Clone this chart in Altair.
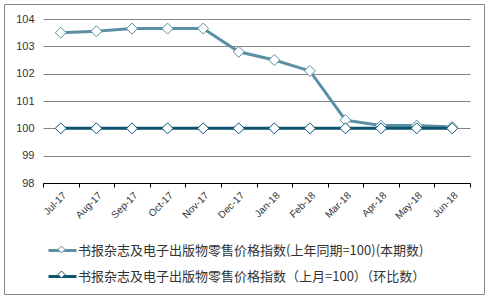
import altair as alt
import pandas as pd

months = ["Jul-17", "Aug-17", "Sep-17", "Oct-17", "Nov-17", "Dec-17",
          "Jan-18", "Feb-18", "Mar-18", "Apr-18", "May-18", "Jun-18"]
series_names = ["书报杂志及电子出版物零售价格指数(上年同期=100)(本期数)",
                "书报杂志及电子出版物零售价格指数（上月=100）（环比数）"]
yoy_values = [103.5, 103.55, 103.65, 103.65, 103.65, 102.8,
              102.5, 102.1, 100.3, 100.1, 100.1, 100.05]
mom_values = [100, 100, 100, 100, 100, 100, 100, 100, 100, 100, 100, 100]
y_ticks = [98, 99, 100, 101, 102, 103, 104]
colors = ["#5b8fa4", "#0d5470"]

rows = []
for name, vals in zip(series_names, [yoy_values, mom_values]):
    for i, (m, v) in enumerate(zip(months, vals)):
        rows.append({"month": m, "value": v, "series": name, "series_b": name})
df = pd.DataFrame(rows)

W, H = 427, 164
PAD_L, PAD_T = 43, 19

x_enc = alt.X("month:N", sort=months, title=None,
              scale=alt.Scale(paddingInner=0, paddingOuter=0),
              axis=alt.Axis(labelAngle=-45, labelFont="Liberation Sans", labelFontSize=10,
                            labelColor="#333333", domainColor="#000000", tickColor="#000000",
                            tickSize=4, tickBand="extent", grid=False, labelPadding=3))
y_enc = alt.Y("value:Q", title=None,
              scale=alt.Scale(domain=[98, 104], nice=False, zero=False),
              axis=alt.Axis(values=y_ticks, domain=False, ticks=False, grid=True,
                            gridColor="#868686", labelFont="Liberation Sans",
                            labelFontSize=11, labelColor="#333333", labelPadding=9))

LEG_X, LEG_Y = 4, 216
ROW_PAD = 3

lines = alt.Chart(df).mark_line(strokeWidth=3).encode(
    x=x_enc, y=y_enc,
    color=alt.Color("series:N", scale=alt.Scale(domain=series_names, range=colors),
                    legend=alt.Legend(title=None, orient="none", legendX=LEG_X, legendY=LEG_Y,
                                      direction="vertical", symbolType="stroke",
                                      symbolSize=784, symbolStrokeWidth=3,
                                      labelFont="Noto Sans CJK SC", labelFontSize=13,
                                      labelColor="#333333", labelLimit=500,
                                      rowPadding=ROW_PAD, labelOffset=0, padding=0, offset=0)),
)

diamond_path = "M0,-0.25L0.25,0L0,0.25L-0.25,0Z"
points = alt.Chart(df).mark_point(shape="diamond", size=121, filled=False, fill="white",
                                  strokeWidth=1, opacity=1).encode(
    x=x_enc, y=y_enc,
    stroke=alt.Stroke("series_b:N", scale=alt.Scale(range=colors),
                      legend=alt.Legend(title=None, orient="none", legendX=LEG_X, legendY=LEG_Y,
                                        direction="vertical", symbolType=diamond_path,
                                        symbolSize=784, symbolStrokeWidth=1,
                                        symbolFillColor="white",
                                        labelFont="Noto Sans CJK SC", labelFontSize=13,
                                        labelExpr="''", labelLimit=500,
                                        rowPadding=ROW_PAD, labelOffset=0, padding=0, offset=0)),
)

border = alt.Chart(alt.Data(values=[{"a": 1}])).mark_rect(
    fill=None, stroke="#888888", strokeWidth=1, clip=False
).encode(
    x=alt.value(4.5 - PAD_L), x2=alt.value(484.5 - PAD_L),
    y=alt.value(4.5 - PAD_T), y2=alt.value(294.5 - PAD_T),
)

chart = alt.layer(lines, points, border).resolve_scale(
    color="independent", stroke="independent"
).properties(
    width=W, height=H,
    autosize=alt.AutoSizeParams(type="none"),
    padding={"left": PAD_L, "top": PAD_T, "right": 491 - PAD_L - W, "bottom": 300 - PAD_T - H},
    background="white",
).configure_view(stroke=None)

chart.save("out.html", embed_options={"renderer": "svg", "actions": False})
